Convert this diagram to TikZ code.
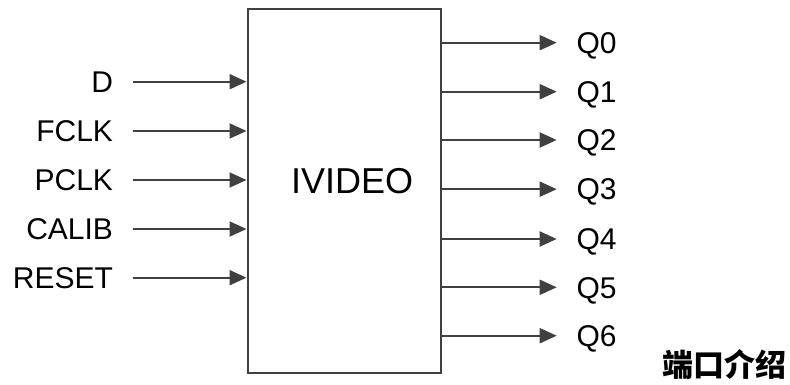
\documentclass[tikz,border=0pt]{standalone}
\usepackage{fontspec}
\setmainfont{Liberation Sans}
\newfontfamily\cjkfont{Noto Sans CJK SC}
\usetikzlibrary{arrows.meta}
\definecolor{ln}{RGB}{64,64,64}
\begin{document}
\begin{tikzpicture}[x=1pt,y=-1pt,
  every node/.style={inner sep=0pt},
  blk/.style={draw=ln, line width=2pt, minimum width=193.2pt, minimum height=364pt},
  inlbl/.style={font=\fontsize{30}{36}\selectfont, text height=21.5pt, text depth=0pt, outer xsep=19.7pt, anchor=east},
  outlbl/.style={font=\fontsize{30}{36}\selectfont, text height=21.5pt, text depth=0pt, outer xsep=19.8pt, anchor=west},
  arr/.style={draw=ln, line width=2pt, -{Triangle[length=17pt,width=15pt]}, fill=ln}
]
\useasboundingbox (0,0) rectangle (790,385);
\node[blk] (box) at (344.1,191.3) {};
\node[font=\fontsize{36}{43}\selectfont, text height=25.8pt, text depth=0pt] (title) at (352.2,180.8) {IVIDEO};

\node[inlbl] (iD) at (132.7,81.7) {D};
\node[inlbl] (iF) at (132.7,131) {FCLK};
\node[inlbl] (iP) at (132.7,180) {PCLK};
\node[inlbl] (iC) at (132.7,229) {CALIB};
\node[inlbl] (iR) at (132.7,277.7) {RESET};
\foreach \n in {iD,iF,iP,iC,iR}
  \draw[arr] (\n.east) -- (\n.east -| box.west);

\node[outlbl] (q0) at (556.7,42.7) {Q0};
\node[outlbl] (q1) at (556.7,91.7) {Q1};
\node[outlbl] (q2) at (556.7,140) {Q2};
\node[outlbl] (q3) at (556.7,189.2) {Q3};
\node[outlbl] (q4) at (556.7,239) {Q4};
\node[outlbl] (q5) at (556.7,287.3) {Q5};
\node[outlbl] (q6) at (556.7,335.7) {Q6};
\foreach \n in {q0,q1,q2,q3,q4,q5,q6}
  \draw[arr] (\n.west -| box.east) -- (\n.west);

\node[font=\cjkfont\bfseries\fontsize{31}{37}\selectfont] (cap) at (724.2,364.8) {端口介绍};
\end{tikzpicture}
\end{document}
